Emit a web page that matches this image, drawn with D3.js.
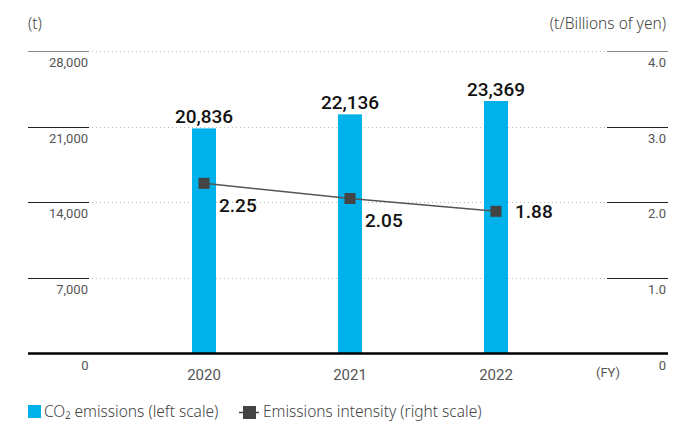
<!DOCTYPE html>
<html>
<head>
    <style>
        body { margin: 0; background: #fff; }
        svg text { font-family: Roboto, "Noto Sans", sans-serif; }
        .tick-label { font-size: 13px; fill: #555; font-weight: 400; }
        .unit { font-family: "Noto Sans", sans-serif !important; font-size: 15.5px; fill: #444; font-weight: 300; }
        .bar { fill: #00b2e9; }
        .value-label { font-size: 19px; font-weight: 500; fill: #111; }
        .legend { font-family: "Noto Sans", sans-serif !important; font-size: 15.5px; fill: #444; font-weight: 300; }
    </style>
    <script src="https://d3js.org/d3.v7.min.js"></script>
</head>
<body>
    <svg width="687" height="425"></svg>
    <script>
        var years = ["2020", "2021", "2022"];
        var emissions = [20836, 22136, 23369];
        var intensity = [2.25, 2.05, 1.88];
        var leftTicks = [0, 7000, 14000, 21000, 28000];
        var rightTicks = [0, 1.0, 2.0, 3.0, 4.0];

        var svg = d3.select("svg");
        var left = 28, right = 668, plotLeft = 92, plotRight = 605,
            plotTop = 51, bottom = 353.5;

        var x = d3.scalePoint().domain(years).range([204, 496]);
        var yL = d3.scaleLinear().domain([0, 28000]).range([bottom, plotTop]);
        var yR = d3.scaleLinear().domain([0, 4]).range([bottom, plotTop]);

        // gridlines (dotted) and short solid axis ticks
        leftTicks.slice(1).forEach(function (t) {
            var y = Math.round(yL(t)) + 0.5;
            svg.append("line").attr("x1", plotLeft).attr("x2", plotRight)
                .attr("y1", y).attr("y2", y)
                .attr("stroke", "#bbb").attr("stroke-dasharray", "1,3");
            svg.append("line").attr("x1", left).attr("x2", 89)
                .attr("y1", y).attr("y2", y)
                .attr("stroke", t === 28000 ? "#888" : "#222");
        });
        rightTicks.slice(1).forEach(function (t) {
            var y = Math.round(yR(t)) + 0.5;
            svg.append("line").attr("x1", 607).attr("x2", right)
                .attr("y1", y).attr("y2", y)
                .attr("stroke", t === 4 ? "#888" : "#222");
        });

        svg.selectAll(".lt").data(leftTicks).enter().append("text")
            .attr("class", "tick-label")
            .attr("x", function (d) { return d === 0 ? 85 : 88; })
            .attr("y", function (d) { return yL(d) + 16; })
            .attr("text-anchor", function (d) { return d === 0 ? "middle" : "end"; })
            .text(function (d) { return d3.format(",")(d); });

        svg.selectAll(".rt").data(rightTicks).enter().append("text")
            .attr("class", "tick-label")
            .attr("x", 666).attr("y", function (d) { return yR(d) + 16; })
            .attr("text-anchor", "end")
            .text(function (d) { return d === 0 ? "0" : d.toFixed(1); });

        svg.append("text").attr("class", "unit").attr("x", 28).attr("y", 29).text("(t)");
        svg.append("text").attr("class", "unit").attr("x", 666).attr("y", 29)
            .attr("text-anchor", "end").text("(t/Billions of yen)");

        // bars
        svg.selectAll(".bar").data(emissions).enter().append("rect")
            .attr("class", "bar")
            .attr("x", function (d, i) { return x(years[i]) - 12; })
            .attr("width", 24)
            .attr("y", function (d) { return yL(d); })
            .attr("height", function (d) { return bottom - yL(d); });

        // baseline
        svg.append("line").attr("x1", left).attr("x2", right)
            .attr("y1", bottom).attr("y2", bottom)
            .attr("stroke", "#000").attr("stroke-width", 2.5);

        svg.selectAll(".xl").data(years).enter().append("text")
            .attr("class", "tick-label")
            .style("font-size", "15px")
            .attr("x", function (d) { return x(d); }).attr("y", 380)
            .attr("text-anchor", "middle").text(function (d) { return d; });

        svg.append("text").attr("class", "tick-label").attr("x", 608).attr("y", 377)
            .attr("text-anchor", "middle").text("(FY)");

        svg.selectAll(".bl").data(emissions).enter().append("text")
            .attr("class", "value-label")
            .attr("x", function (d, i) { return x(years[i]); })
            .attr("y", function (d) { return yL(d) - 5; })
            .attr("text-anchor", "middle")
            .text(function (d) { return d3.format(",")(d); });

        // intensity line
        var line = d3.line()
            .x(function (d, i) { return x(years[i]); })
            .y(function (d) { return yR(d); });
        svg.append("path").datum(intensity).attr("d", line)
            .attr("fill", "none").attr("stroke", "#555").attr("stroke-width", 1.5);
        svg.selectAll(".pt").data(intensity).enter().append("rect")
            .attr("x", function (d, i) { return x(years[i]) - 5.5; })
            .attr("y", function (d) { return yR(d) - 5.5; })
            .attr("width", 11).attr("height", 11).attr("fill", "#444");
        // label offsets: last label sits beside its marker
        var labelDx = [15, 15, 19], labelDy = [29, 29, 7];
        svg.selectAll(".il").data(intensity).enter().append("text")
            .attr("class", "value-label")
            .attr("x", function (d, i) { return x(years[i]) + labelDx[i]; })
            .attr("y", function (d, i) { return yR(d) + labelDy[i]; })
            .text(function (d) { return d.toFixed(2); });

        // legend
        svg.append("rect").attr("x", 28).attr("y", 405).attr("width", 13).attr("height", 13)
            .attr("class", "bar");
        svg.append("text").attr("class", "legend").attr("x", 44).attr("y", 417)
            .text("CO\u2082 emissions (left scale)");
        svg.append("line").attr("x1", 239).attr("x2", 259).attr("y1", 412.5).attr("y2", 412.5)
            .attr("stroke", "#444").attr("stroke-width", 1.5);
        svg.append("rect").attr("x", 243).attr("y", 406).attr("width", 13).attr("height", 13)
            .attr("fill", "#444");
        svg.append("text").attr("class", "legend").attr("x", 263).attr("y", 417)
            .text("Emissions intensity (right scale)");
    </script>
</body>
</html>
